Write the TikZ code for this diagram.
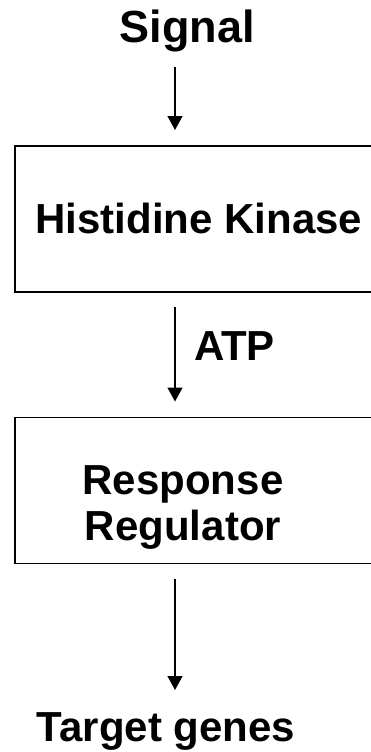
\documentclass[tikz,border=0pt]{standalone}
\usepackage{fontspec}
\setmainfont{Liberation Sans}
\usepackage{tikz}
\usetikzlibrary{arrows.meta}
\usetikzlibrary{calc}
\tikzset{big/.style={font=\bfseries\fontsize{42}{46}\selectfont, inner sep=0, outer sep=0}}
\tikzset{stage/.style={draw=black, line width=1.8pt, rectangle, minimum width=370pt, minimum height=146pt, inner sep=0, outer sep=0}}
\tikzset{flow/.style={black, line width=1.3pt, -{Triangle[width=15pt,length=14pt]}}}

\begin{document}
\begin{tikzpicture}[x=1pt, y=-1pt]
\useasboundingbox (0,0) rectangle (371,752);
\coordinate (axis) at (175,0);
\node[big, font=\bfseries\fontsize{45}{50}\selectfont, anchor=base] (signal) at (187,43) {Signal};
\node[stage] (hk) at (200,219) {};
\node[big, anchor=base] (hktext) at (199,233) {Histidine Kinase};
\node[stage] (rr) at (200,490.5) {};
\node[big, anchor=north, align=center] (rrtext) at (183,466) {Response\\Regulator};
\node[big, anchor=base west] (atp) at (194,360) {ATP};
\node[big, anchor=base] (genes) at (166,741) {Target genes};
\draw[flow, shorten <=24pt, shorten >=16pt] (signal.base -| axis) -- (hk.north -| axis);
\draw[flow, shorten <=15pt, shorten >=16pt] (hk.south -| axis) -- (rr.north -| axis);
\draw[flow, shorten <=15pt, shorten >=51pt] (rr.south -| axis) -- (genes.base -| axis);
\end{tikzpicture}
\end{document}
